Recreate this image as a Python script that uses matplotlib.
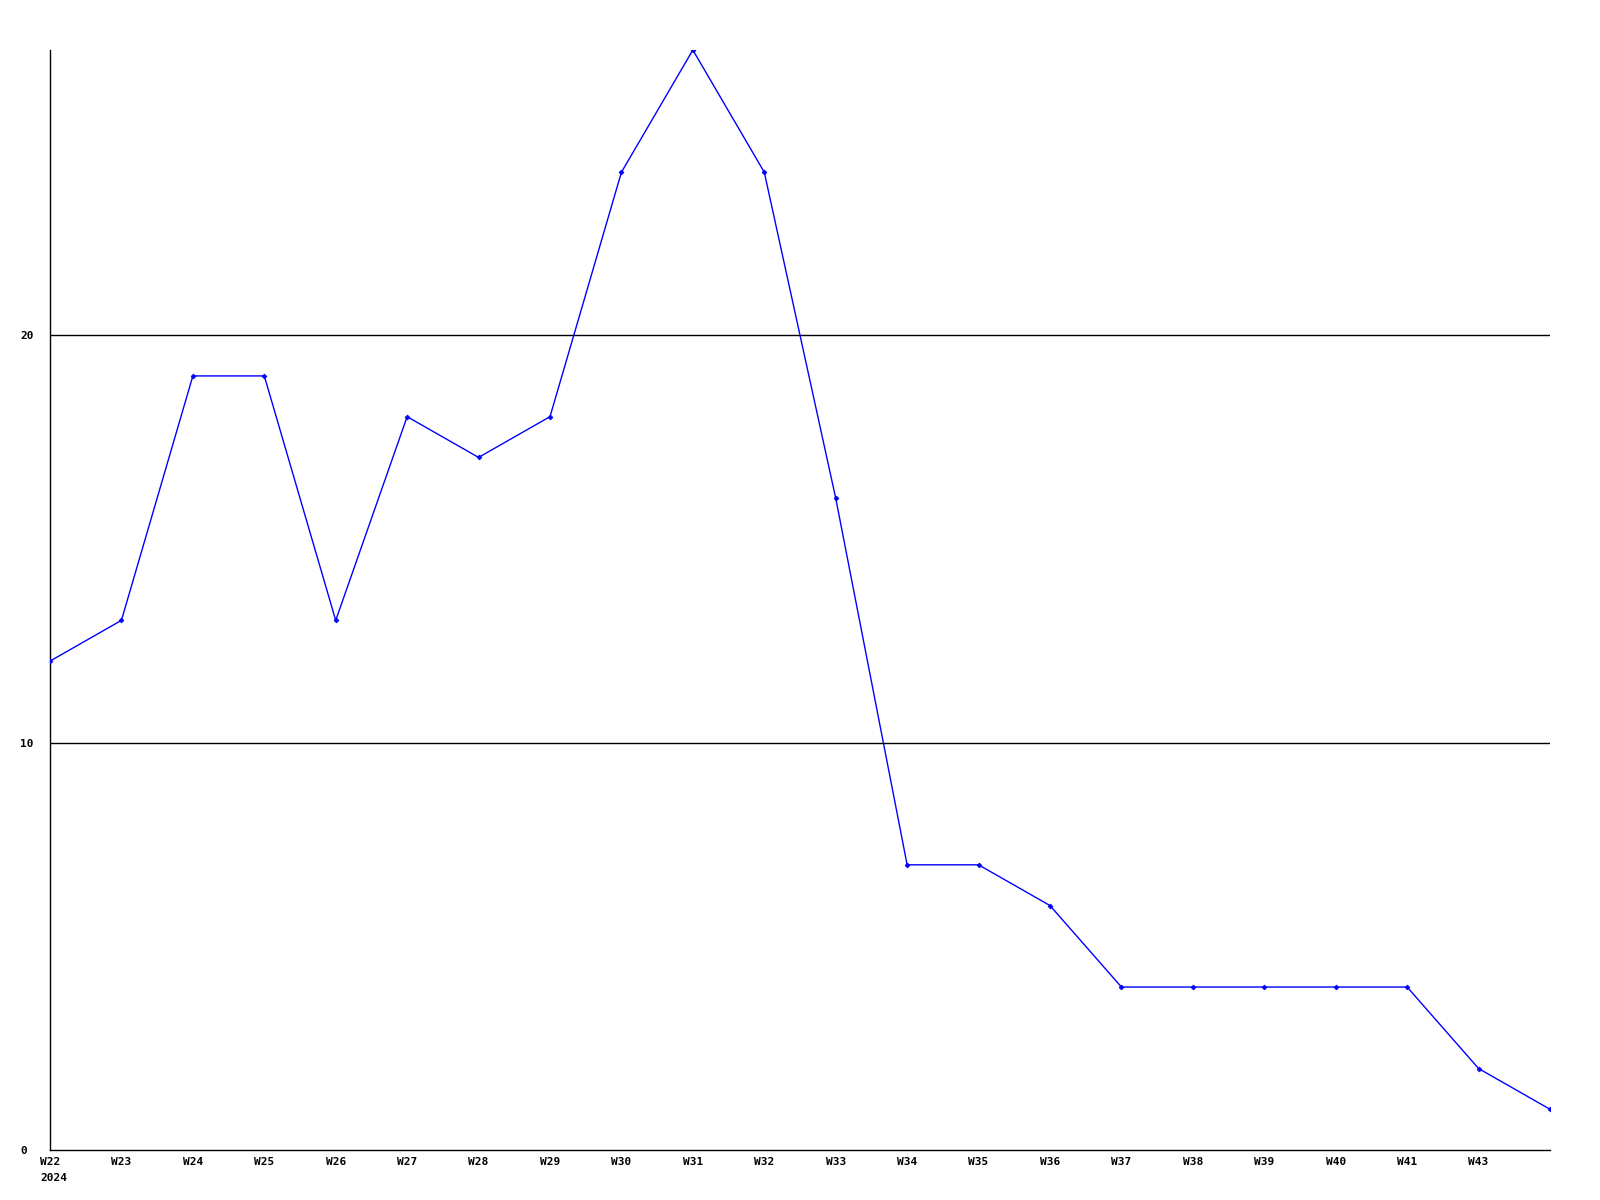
import matplotlib
matplotlib.use("Agg")
import matplotlib.pyplot as plt

# weekly values (W42 is absent in the source labels)
week_labels = ["W22", "W23", "W24", "W25", "W26", "W27", "W28", "W29", "W30", "W31",
               "W32", "W33", "W34", "W35", "W36", "W37", "W38", "W39", "W40", "W41",
               "W43", ""]
values = [12, 13, 19, 19, 13, 18, 17, 18, 24, 27,
          24, 16, 7, 7, 6, 4, 4, 4, 4, 4,
          2, 1]
y_ticks = [0, 10, 20]
year_label = "2024"

plt.rcParams['font.family'] = ['DejaVu Sans Mono']

fig = plt.figure(figsize=(16, 12), dpi=100, facecolor='white')
ax = fig.add_axes([50 / 1600, 50 / 1200, 1500 / 1600, 1100 / 1200])

x = list(range(len(values)))
ax.plot(x, values, color='#0000ff', linewidth=1, marker='D', markersize=2.5,
        markeredgewidth=0.5, zorder=3)

ax.set_xlim(0, len(values) - 1)
ax.set_ylim(0, 27)

# horizontal grid lines
for yv in y_ticks[1:]:
    ax.axhline(yv, color='black', linewidth=1, zorder=1)

for side in ['top', 'right']:
    ax.spines[side].set_visible(False)
for side in ['left', 'bottom']:
    ax.spines[side].set_linewidth(1)
    ax.spines[side].set_color('black')

ax.set_xticks(x)
ax.set_xticklabels(week_labels, fontsize=8, fontweight='bold')
ax.set_yticks(y_ticks)
ax.set_yticklabels([str(v) for v in y_ticks], fontsize=8, fontweight='bold')
for lbl in ax.get_yticklabels():
    lbl.set_horizontalalignment('left')
ax.tick_params(axis='y', length=0, pad=21.6)
ax.tick_params(axis='x', length=0, pad=5)

ax.annotate(year_label, xy=(0, 0), xycoords='data', xytext=(-7, -16.5),
            textcoords='offset points', fontsize=8, fontweight='bold',
            ha='left', va='top', annotation_clip=False)

fig.savefig("out.png", dpi=100, facecolor='white')
